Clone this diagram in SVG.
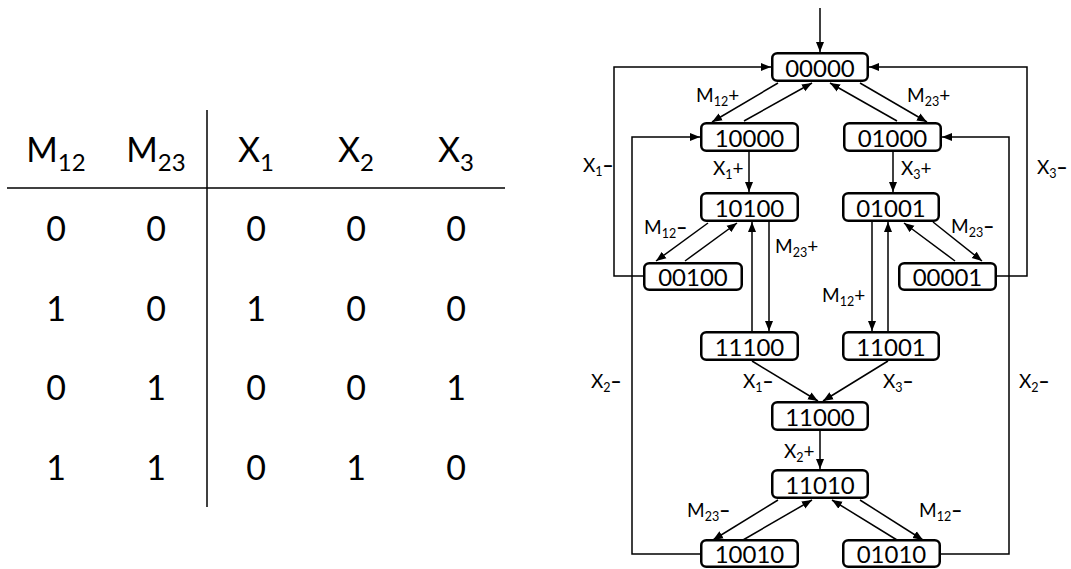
<svg xmlns="http://www.w3.org/2000/svg" width="1071" height="569" viewBox="0 0 1071 569">
<style>
  .tbl { font-family: Lato, "Liberation Sans", sans-serif; font-size: 34px; fill: #000; text-anchor: middle; }
  .sub { font-size: 24px; }
  .node rect { fill: #fff; stroke: #000; stroke-width: 2.5; }
  .node text { font-family: Lato, "Liberation Sans", sans-serif; font-size: 24px; fill: #000; text-anchor: middle; }
  .lbl { font-family: Lato, "Liberation Sans", sans-serif; font-size: 19px; fill: #000; }
  .ls { font-size: 12.5px; }
  .dash { font-weight: 900; }
  .edge { fill: none; stroke: #000; stroke-width: 1.5; }
  .rule { stroke: #000; stroke-width: 1.5; }
</style>
<defs>
  <marker id="arr" markerUnits="userSpaceOnUse" markerWidth="10" markerHeight="10" viewBox="0 0 10 10" refX="10" refY="5" orient="auto">
    <path d="M0,1 L10,5 L0,9 Z" fill="#000"/>
  </marker>
</defs>
<rect width="1071" height="569" fill="#fff"/>

<g id="table">
  <line class="rule" x1="7" y1="188" x2="505" y2="188"/>
  <line class="rule" x1="207" y1="110" x2="207" y2="507"/>
  <text class="tbl" x="56" y="162">M<tspan class="sub" dy="9">12</tspan></text>
  <text class="tbl" x="156" y="162">M<tspan class="sub" dy="9">23</tspan></text>
  <text class="tbl" x="256" y="162">X<tspan class="sub" dy="9">1</tspan></text>
  <text class="tbl" x="356" y="162">X<tspan class="sub" dy="9">2</tspan></text>
  <text class="tbl" x="456" y="162">X<tspan class="sub" dy="9">3</tspan></text>
  <text class="tbl" x="56" y="241">0</text><text class="tbl" x="156" y="241">0</text><text class="tbl" x="256" y="241">0</text><text class="tbl" x="356" y="241">0</text><text class="tbl" x="456" y="241">0</text>
  <text class="tbl" x="56" y="321">1</text><text class="tbl" x="156" y="321">0</text><text class="tbl" x="256" y="321">1</text><text class="tbl" x="356" y="321">0</text><text class="tbl" x="456" y="321">0</text>
  <text class="tbl" x="56" y="400">0</text><text class="tbl" x="156" y="400">1</text><text class="tbl" x="256" y="400">0</text><text class="tbl" x="356" y="400">0</text><text class="tbl" x="456" y="400">1</text>
  <text class="tbl" x="56" y="480">1</text><text class="tbl" x="156" y="480">1</text><text class="tbl" x="256" y="480">0</text><text class="tbl" x="356" y="480">1</text><text class="tbl" x="456" y="480">0</text>
</g>

<g id="connectors">
  <line class="edge" x1="820" y1="8" x2="820" y2="52" marker-end="url(#arr)"/>
  <line class="edge" x1="778" y1="83" x2="712" y2="122" marker-end="url(#arr)"/>
  <line class="edge" x1="744" y1="121" x2="812" y2="83" marker-end="url(#arr)"/>
  <line class="edge" x1="897" y1="121" x2="830" y2="83" marker-end="url(#arr)"/>
  <line class="edge" x1="860" y1="83" x2="927" y2="122" marker-end="url(#arr)"/>
  <polyline class="edge" points="643,276 614,276 614,67 771,67" marker-end="url(#arr)"/>
  <polyline class="edge" points="700,554 632,554 632,137 700,137" marker-end="url(#arr)"/>
  <polyline class="edge" points="997,276 1027,276 1027,67 869,67" marker-end="url(#arr)"/>
  <polyline class="edge" points="941,554 1009,554 1009,137 942,137" marker-end="url(#arr)"/>
  <line class="edge" x1="749" y1="152" x2="749" y2="192" marker-end="url(#arr)"/>
  <line class="edge" x1="893" y1="152" x2="893" y2="192" marker-end="url(#arr)"/>
  <line class="edge" x1="708" y1="223" x2="656" y2="261" marker-end="url(#arr)"/>
  <line class="edge" x1="685" y1="261" x2="737" y2="223" marker-end="url(#arr)"/>
  <line class="edge" x1="769" y1="222" x2="769" y2="331" marker-end="url(#arr)"/>
  <line class="edge" x1="752" y1="331" x2="752" y2="222" marker-end="url(#arr)"/>
  <line class="edge" x1="933" y1="222" x2="982" y2="261" marker-end="url(#arr)"/>
  <line class="edge" x1="955" y1="261" x2="904" y2="223" marker-end="url(#arr)"/>
  <line class="edge" x1="872" y1="222" x2="872" y2="331" marker-end="url(#arr)"/>
  <line class="edge" x1="888" y1="331" x2="888" y2="222" marker-end="url(#arr)"/>
  <line class="edge" x1="752" y1="361" x2="818" y2="401" marker-end="url(#arr)"/>
  <line class="edge" x1="888" y1="361" x2="823" y2="401" marker-end="url(#arr)"/>
  <line class="edge" x1="820" y1="431" x2="820" y2="469" marker-end="url(#arr)"/>
  <line class="edge" x1="778" y1="500" x2="713" y2="540" marker-end="url(#arr)"/>
  <line class="edge" x1="743" y1="540" x2="812" y2="500" marker-end="url(#arr)"/>
  <line class="edge" x1="897" y1="540" x2="832" y2="500" marker-end="url(#arr)"/>
  <line class="edge" x1="860" y1="500" x2="923" y2="540" marker-end="url(#arr)"/>
</g>

<g id="n00000" class="node"><rect x="772.25" y="53.25" width="95.5" height="27.5" rx="5"/><text x="820" y="77">00000</text></g>
<g id="n10000" class="node"><rect x="701.25" y="123.25" width="96.5" height="27.5" rx="5"/><text x="749.5" y="147">10000</text></g>
<g id="n01000" class="node"><rect x="844.25" y="123.25" width="96.5" height="27.5" rx="5"/><text x="892.5" y="147">01000</text></g>
<g id="n10100" class="node"><rect x="701.25" y="193.25" width="96.5" height="27.5" rx="5"/><text x="749.5" y="217">10100</text></g>
<g id="n01001" class="node"><rect x="843.25" y="193.25" width="95.5" height="27.5" rx="5"/><text x="891" y="217">01001</text></g>
<g id="n00100" class="node"><rect x="644.25" y="263.25" width="97.5" height="26.5" rx="5"/><text x="693" y="286">00100</text></g>
<g id="n00001" class="node"><rect x="899.25" y="263.25" width="96.5" height="26.5" rx="5"/><text x="947.5" y="286">00001</text></g>
<g id="n11100" class="node"><rect x="701.25" y="332.25" width="96.5" height="27.5" rx="5"/><text x="749.5" y="356">11100</text></g>
<g id="n11001" class="node"><rect x="843.25" y="332.25" width="95.5" height="27.5" rx="5"/><text x="891" y="356">11001</text></g>
<g id="n11000" class="node"><rect x="772.25" y="402.25" width="95.5" height="27.5" rx="5"/><text x="820" y="426">11000</text></g>
<g id="n11010" class="node"><rect x="772.25" y="470.25" width="95.5" height="27.5" rx="5"/><text x="820" y="494">11010</text></g>
<g id="n10010" class="node"><rect x="701.25" y="540.25" width="96.5" height="26.5" rx="5"/><text x="749.5" y="563">10010</text></g>
<g id="n01010" class="node"><rect x="843.25" y="540.25" width="96.5" height="26.5" rx="5"/><text x="891.5" y="563">01010</text></g>

<g id="labels">
  <text class="lbl" x="696" y="102">M<tspan class="ls" dy="4">12</tspan><tspan dy="-4">+</tspan></text>
  <text class="lbl" x="907" y="102">M<tspan class="ls" dy="4">23</tspan><tspan dy="-4">+</tspan></text>
  <text class="lbl" x="713" y="175">X<tspan class="ls" dy="4">1</tspan><tspan dy="-4">+</tspan></text>
  <text class="lbl" x="901" y="175">X<tspan class="ls" dy="4">3</tspan><tspan dy="-4">+</tspan></text>
  <text class="lbl" x="583" y="172">X<tspan class="ls" dy="4">1</tspan><tspan class="dash" dy="-4">–</tspan></text>
  <text class="lbl" x="1037" y="174">X<tspan class="ls" dy="4">3</tspan><tspan class="dash" dy="-4">–</tspan></text>
  <text class="lbl" x="644" y="234">M<tspan class="ls" dy="4">12</tspan><tspan class="dash" dy="-4">–</tspan></text>
  <text class="lbl" x="775" y="253">M<tspan class="ls" dy="4">23</tspan><tspan dy="-4">+</tspan></text>
  <text class="lbl" x="951" y="233">M<tspan class="ls" dy="4">23</tspan><tspan class="dash" dy="-4">–</tspan></text>
  <text class="lbl" x="822" y="302">M<tspan class="ls" dy="4">12</tspan><tspan dy="-4">+</tspan></text>
  <text class="lbl" x="591" y="388">X<tspan class="ls" dy="4">2</tspan><tspan class="dash" dy="-4">–</tspan></text>
  <text class="lbl" x="743" y="388">X<tspan class="ls" dy="4">1</tspan><tspan class="dash" dy="-4">–</tspan></text>
  <text class="lbl" x="883" y="388">X<tspan class="ls" dy="4">3</tspan><tspan class="dash" dy="-4">–</tspan></text>
  <text class="lbl" x="1019" y="388">X<tspan class="ls" dy="4">2</tspan><tspan class="dash" dy="-4">–</tspan></text>
  <text class="lbl" x="784" y="458">X<tspan class="ls" dy="4">2</tspan><tspan dy="-4">+</tspan></text>
  <text class="lbl" x="687" y="517">M<tspan class="ls" dy="4">23</tspan><tspan class="dash" dy="-4">–</tspan></text>
  <text class="lbl" x="919" y="517">M<tspan class="ls" dy="4">12</tspan><tspan class="dash" dy="-4">–</tspan></text>
</g>
</svg>
